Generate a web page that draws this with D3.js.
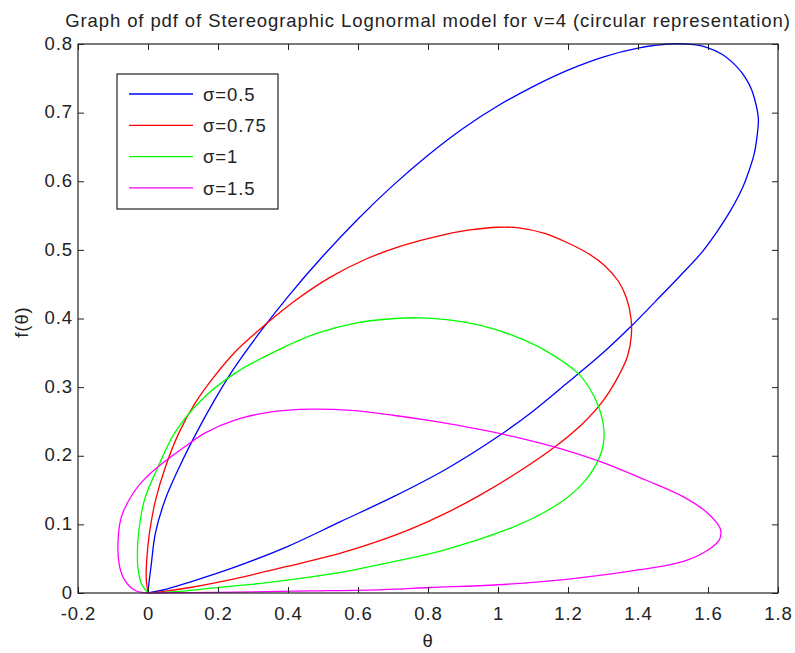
<!DOCTYPE html>
<html>
<head>
<meta charset="utf-8">
<script src="https://cdn.jsdelivr.net/npm/d3@7"></script>
<style>
  html, body { margin: 0; padding: 0; background: #fff; }
  svg { display: block; }
  text { font-family: "Liberation Sans", Arial, sans-serif; fill: #222; letter-spacing: 0.9px; }
</style>
</head>
<body>
<svg id="chart" width="795" height="653"></svg>
<script>
const title = "Graph of pdf of Stereographic Lognormal model for v=4 (circular representation)";
const xLabel = "θ";
const yLabel = "f(θ)";
const xTicks = [-0.2, 0, 0.2, 0.4, 0.6, 0.8, 1, 1.2, 1.4, 1.6, 1.8];
const yTicks = [0, 0.1, 0.2, 0.3, 0.4, 0.5, 0.6, 0.7, 0.8];
const seriesNames = ["σ=0.5", "σ=0.75", "σ=1", "σ=1.5"];
const seriesColors = ["#0000ff", "#ff0000", "#00ff00", "#ff00ff"];

// points: [θ-axis value, f(θ)-axis value]
const sigma05 = [[0,0],[0.004,0.02],[0.009,0.04],[0.021,0.087],[0.049,0.136],[0.09,0.184],[0.138,0.233],[0.19,0.281],[0.248,0.329],[0.32,0.38],[0.4,0.432],[0.5,0.491],[0.6,0.545],[0.7,0.594],[0.8,0.638],[0.9,0.677],[1.0,0.71],[1.1,0.738],[1.2,0.762],[1.3,0.781],[1.4,0.794],[1.49,0.8],[1.56,0.799],[1.596,0.795],[1.64,0.785],[1.682,0.767],[1.708,0.75],[1.725,0.733],[1.738,0.71],[1.744,0.69],[1.74,0.665],[1.732,0.64],[1.715,0.612],[1.7,0.592],[1.663,0.556],[1.625,0.526],[1.58,0.495],[1.52,0.462],[1.45,0.425],[1.381,0.389],[1.3,0.35],[1.2,0.307],[1.1,0.265],[1.0,0.228],[0.85,0.18],[0.7,0.14],[0.55,0.104],[0.4,0.068],[0.25,0.038],[0.12,0.016],[0.04,0.004],[0,0]];
const sigma075 = [[0,0],[-0.005,0.02],[-0.004,0.045],[0.004,0.087],[0.022,0.136],[0.05,0.184],[0.088,0.233],[0.135,0.277],[0.19,0.316],[0.25,0.352],[0.337,0.392],[0.42,0.426],[0.52,0.46],[0.62,0.486],[0.72,0.505],[0.82,0.519],[0.92,0.529],[1.0,0.533],[1.06,0.532],[1.133,0.524],[1.2,0.51],[1.26,0.494],[1.305,0.477],[1.343,0.455],[1.367,0.43],[1.38,0.4],[1.381,0.375],[1.37,0.345],[1.343,0.315],[1.3,0.28],[1.24,0.246],[1.16,0.212],[1.06,0.177],[0.95,0.143],[0.85,0.116],[0.75,0.093],[0.65,0.074],[0.55,0.058],[0.4,0.039],[0.25,0.021],[0.12,0.008],[0.04,0.002],[0,0]];
const sigma1 = [[0,0],[-0.019,0.014],[-0.029,0.038],[-0.03,0.065],[-0.027,0.087],[-0.01,0.136],[0.029,0.184],[0.076,0.233],[0.152,0.281],[0.248,0.32],[0.371,0.354],[0.486,0.379],[0.59,0.393],[0.705,0.4],[0.78,0.401],[0.86,0.398],[0.95,0.39],[1.038,0.376],[1.133,0.354],[1.229,0.32],[1.262,0.298],[1.287,0.272],[1.3,0.248],[1.303,0.228],[1.297,0.208],[1.28,0.187],[1.248,0.163],[1.2,0.14],[1.13,0.117],[1.038,0.095],[0.848,0.063],[0.657,0.041],[0.562,0.031],[0.371,0.017],[0.181,0.007],[0.08,0.002],[0,0]];
const sigma15 = [[0,0],[-0.038,0.004],[-0.067,0.019],[-0.081,0.038],[-0.086,0.068],[-0.076,0.111],[-0.043,0.145],[-0.008,0.167],[0.029,0.184],[0.105,0.213],[0.162,0.233],[0.248,0.252],[0.352,0.264],[0.467,0.268],[0.581,0.266],[0.7,0.259],[0.82,0.25],[0.94,0.239],[1.06,0.226],[1.18,0.21],[1.3,0.19],[1.42,0.165],[1.53,0.14],[1.6,0.116],[1.634,0.095],[1.637,0.087],[1.632,0.077],[1.601,0.063],[1.53,0.046],[1.406,0.034],[1.196,0.02],[1.0,0.012],[0.806,0.008],[0.672,0.005],[0.467,0.003],[0.2,0.001],[0,0]];
const seriesData = [sigma05, sigma075, sigma1, sigma15];

const svg = d3.select("#chart");
const margin = {left: 78, top: 44, right: 795 - 778, bottom: 653 - 593};
const W = 795 - margin.left - margin.right;
const H = 653 - margin.top - margin.bottom;

const x = d3.scaleLinear().domain([-0.2, 1.8]).range([0, W]);
const y = d3.scaleLinear().domain([0, 0.8]).range([H, 0]);

svg.append("rect").attr("width", 795).attr("height", 653).attr("fill", "#fff");

const g = svg.append("g").attr("transform", `translate(${margin.left},${margin.top})`);

g.append("defs").append("clipPath").attr("id", "clip")
  .append("rect").attr("x", -1).attr("y", -1).attr("width", W + 2).attr("height", H + 2);

// curves
const line = d3.line().x(d => x(d[0])).y(d => y(d[1])).curve(d3.curveCatmullRom.alpha(0.5));
const curves = g.append("g").attr("clip-path", "url(#clip)");
seriesData.forEach((data, i) => {
  curves.append("path").datum(data)
    .attr("d", line)
    .attr("fill", "none")
    .attr("stroke", seriesColors[i])
    .attr("stroke-width", 1.3);
});

// axes (MATLAB style: inward ticks on all four sides)
const fmt = d => String(+d.toFixed(1));
const tickLen = 6;
const axB = g.append("g").attr("transform", `translate(0,${H})`)
  .call(d3.axisBottom(x).tickValues(xTicks).tickSizeInner(-tickLen).tickSizeOuter(0).tickPadding(14).tickFormat(fmt));
const axT = g.append("g")
  .call(d3.axisTop(x).tickValues(xTicks).tickSizeInner(-tickLen).tickSizeOuter(0).tickFormat(""));
const axL = g.append("g")
  .call(d3.axisLeft(y).tickValues(yTicks).tickSizeInner(-tickLen).tickSizeOuter(0).tickPadding(5).tickFormat(fmt));
const axR = g.append("g").attr("transform", `translate(${W},0)`)
  .call(d3.axisRight(y).tickValues(yTicks).tickSizeInner(-tickLen).tickSizeOuter(0).tickFormat(""));
[axB, axT, axL, axR].forEach(a => {
  a.select(".domain").remove();
  a.selectAll(".tick line").attr("stroke", "#222").attr("stroke-width", 1);
  a.selectAll(".tick text").style("font-size", "18.5px").style("font-family", '"Liberation Sans", Arial, sans-serif').attr("fill", "#222");
});
axL.selectAll(".tick text").attr("dy", "0.28em");
g.append("rect").attr("x", 0).attr("y", 0).attr("width", W).attr("height", H)
  .attr("fill", "none").attr("stroke", "#222").attr("stroke-width", 1.2);

// title and labels
svg.append("text").attr("x", margin.left + W / 2).attr("y", 27)
  .attr("text-anchor", "middle").style("font-size", "18.5px").text(title);
svg.append("text").attr("x", margin.left + W / 2).attr("y", 647)
  .attr("text-anchor", "middle").style("font-size", "18.5px").text(xLabel);
svg.append("text").attr("transform", "translate(28,322) rotate(-90)")
  .attr("text-anchor", "middle").style("font-size", "18.5px").text(yLabel);

// legend
const leg = svg.append("g");
leg.append("rect").attr("x", 117).attr("y", 74).attr("width", 161).attr("height", 135)
  .attr("fill", "#fff").attr("stroke", "#222").attr("stroke-width", 1.2);
seriesNames.forEach((name, i) => {
  const ry = 94 + i * 31.3;
  leg.append("line").attr("x1", 129).attr("x2", 193).attr("y1", ry).attr("y2", ry)
    .attr("stroke", seriesColors[i]).attr("stroke-width", 1.3);
  leg.append("text").attr("x", 203).attr("y", ry).attr("dy", "0.36em")
    .style("font-size", "18.5px").text(name);
});
</script>
</body>
</html>
